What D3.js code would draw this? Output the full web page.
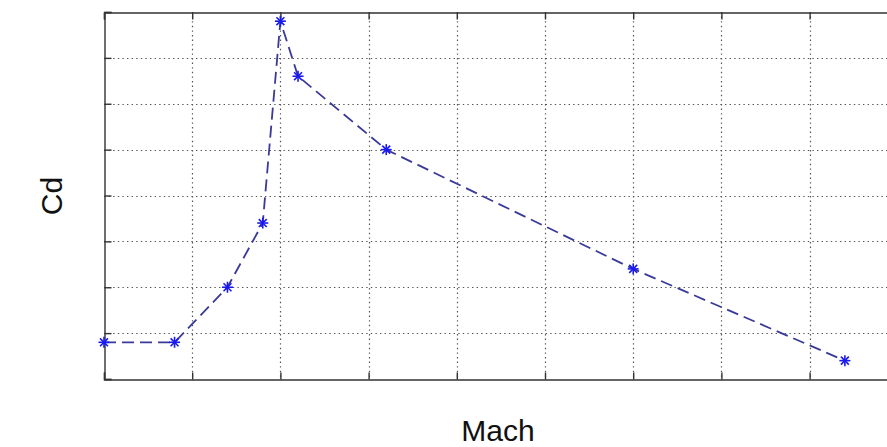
<!DOCTYPE html>
<html>
<head>
<meta charset="utf-8">
<script src="https://cdn.jsdelivr.net/npm/d3@7"></script>
<style>
  html, body { margin: 0; padding: 0; background: #fff; overflow: hidden; }
  svg { display: block; }
</style>
</head>
<body>
<script>
// Data
const mach = [0, 0.8, 1.4, 1.8, 2.0, 2.2, 3.2, 6.0, 8.4];
const cd   = [0.08, 0.08, 0.20, 0.34, 0.78, 0.66, 0.50, 0.24, 0.04];
const xTicks = [0, 1, 2, 3, 4, 5, 6, 7, 8, 9];
const yTicks = [0, 0.1, 0.2, 0.3, 0.4, 0.5, 0.6, 0.7, 0.8];
const xLabel = "Mach";
const yLabel = "Cd";

const W = 887, H = 447;
const margin = { left: 104, top: 12, bottom: 68 };
const x = d3.scaleLinear().domain([0, 9]).range([margin.left, margin.left + 88.2 * 9]);
const y = d3.scaleLinear().domain([0, 0.8]).range([H - margin.bottom, margin.top]);

const svg = d3.select("body").append("svg").attr("width", W).attr("height", H);

const x0 = x(0), x1 = x(9), yb = y(0), yt = y(0.8);

// grid
const grid = svg.append("g").attr("stroke", "#555").attr("stroke-width", 1.2)
  .attr("stroke-dasharray", "1.4,3.2").attr("fill", "none");
grid.selectAll("line.vx").data(xTicks.slice(1, -1)).join("line")
  .attr("x1", d => Math.round(x(d)) + 0.5).attr("x2", d => Math.round(x(d)) + 0.5)
  .attr("y1", yt).attr("y2", yb);
grid.selectAll("line.hy").data(yTicks.slice(1, -1)).join("line")
  .attr("y1", d => Math.round(y(d)) + 0.5).attr("y2", d => Math.round(y(d)) + 0.5)
  .attr("x1", x0).attr("x2", x1);

// axes with inside ticks, no labels
const tick = 7;
svg.append("g").attr("transform", `translate(0,${Math.round(yb) + 0.5})`)
  .call(d3.axisBottom(x).tickValues(xTicks).tickSize(-tick).tickFormat(""))
  .call(g => g.selectAll("path,line").attr("stroke", "#333").attr("stroke-width", 1.4));
svg.append("g").attr("transform", `translate(0,${Math.round(yt) + 0.5})`)
  .call(d3.axisTop(x).tickValues(xTicks).tickSize(-tick).tickFormat(""))
  .call(g => g.selectAll("path,line").attr("stroke", "#333").attr("stroke-width", 1.4));
svg.append("g").attr("transform", `translate(${Math.round(x0) + 0.5},0)`)
  .call(d3.axisLeft(y).tickValues(yTicks).tickSize(-tick).tickFormat(""))
  .call(g => g.selectAll("path,line").attr("stroke", "#333").attr("stroke-width", 1.4));

const pts = mach.map((m, i) => [m, cd[i]]);

// dashed line
svg.append("path").datum(pts)
  .attr("fill", "none").attr("stroke", "#3a3a98").attr("stroke-width", 1.8)
  .attr("stroke-dasharray", "12,6")
  .attr("d", d3.line().x(d => x(d[0])).y(d => y(d[1])));

// asterisk markers
const r = 5.5, rd = r * 0.72;
const mk = svg.append("g").attr("stroke", "#1a1aee").attr("stroke-width", 1.6);
pts.forEach(d => {
  const cx = x(d[0]), cy = y(d[1]);
  const g = mk.append("g").attr("transform", `translate(${cx},${cy})`);
  g.append("line").attr("x1", -r).attr("x2", r).attr("y1", 0).attr("y2", 0);
  g.append("line").attr("x1", 0).attr("x2", 0).attr("y1", -r).attr("y2", r);
  g.append("line").attr("x1", -rd).attr("x2", rd).attr("y1", -rd).attr("y2", rd);
  g.append("line").attr("x1", -rd).attr("x2", rd).attr("y1", rd).attr("y2", -rd);
});

// labels
svg.append("text").attr("x", 498).attr("y", 441).attr("text-anchor", "middle")
  .attr("font-family", "Liberation Sans, Arial, sans-serif").attr("font-size", 30)
  .attr("fill", "#111").text(xLabel);
svg.append("text").attr("transform", `translate(62,196) rotate(-90)`).attr("text-anchor", "middle")
  .attr("font-family", "Liberation Sans, Arial, sans-serif").attr("font-size", 30)
  .attr("fill", "#111").text(yLabel);
</script>
</body>
</html>
